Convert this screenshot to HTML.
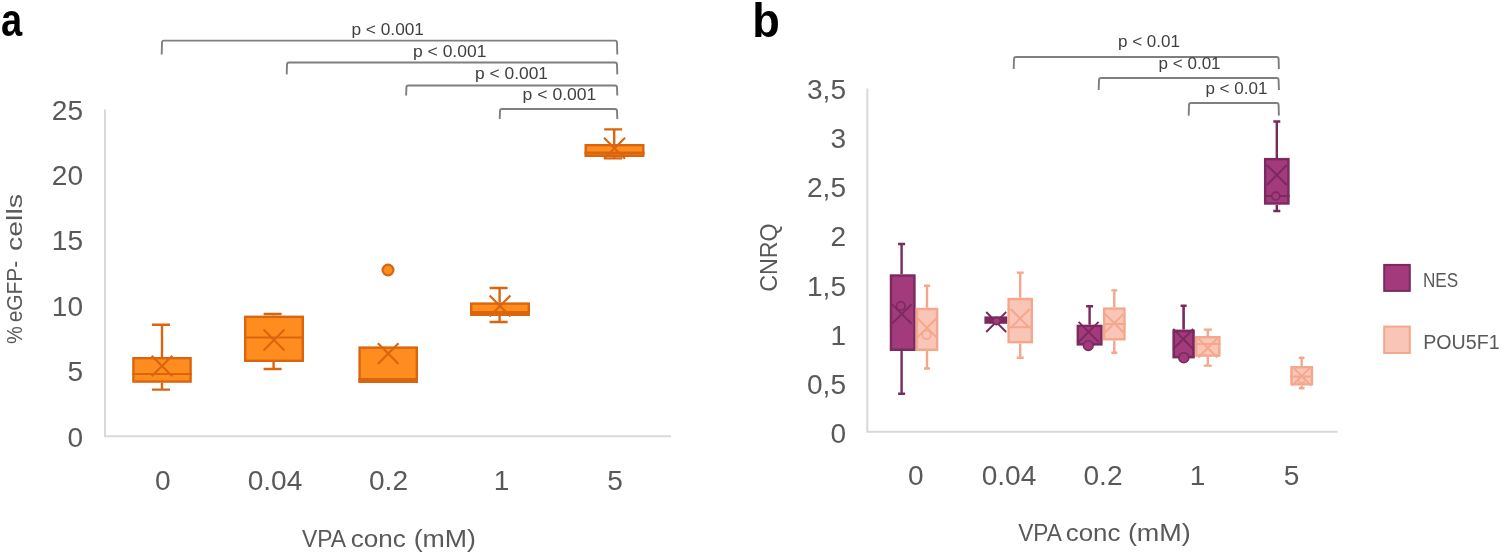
<!DOCTYPE html>
<html lang="en"><head><meta charset="utf-8"><title>Figure</title>
<style>html,body{margin:0;padding:0;background:#fff}svg{display:block}</style></head>
<body>
<svg width="1502" height="555" viewBox="0 0 1502 555" font-family='"Liberation Sans", sans-serif'>
<rect width="1502" height="555" fill="#ffffff"/>
<text x="0" y="0" font-size="47" fill="#000" text-anchor="start" font-weight="bold" transform="translate(1,36.3) scale(0.81,1)">a</text>
<text x="0" y="0" font-size="48" fill="#000" text-anchor="start" font-weight="bold" transform="translate(752.3,36.5) scale(0.94,1)">b</text>
<path d="M105,109.5 V436.3 H671" fill="none" stroke="#d9d9d9" stroke-width="2"/>
<text x="0" y="0" font-size="27" fill="#595959" text-anchor="end" transform="translate(83,119.7) scale(1.04,1)">25</text>
<text x="0" y="0" font-size="27" fill="#595959" text-anchor="end" transform="translate(83,185.0) scale(1.04,1)">20</text>
<text x="0" y="0" font-size="27" fill="#595959" text-anchor="end" transform="translate(83,250.39999999999998) scale(1.04,1)">15</text>
<text x="0" y="0" font-size="27" fill="#595959" text-anchor="end" transform="translate(83,315.7) scale(1.04,1)">10</text>
<text x="0" y="0" font-size="27" fill="#595959" text-anchor="end" transform="translate(83,381.09999999999997) scale(1.04,1)">5</text>
<text x="0" y="0" font-size="27" fill="#595959" text-anchor="end" transform="translate(83,447.4) scale(1.04,1)">0</text>
<text x="0" y="0" font-size="27" fill="#595959" text-anchor="middle" transform="translate(162.8,490) scale(1.04,1)">0</text>
<text x="0" y="0" font-size="27" fill="#595959" text-anchor="middle" transform="translate(275,490) scale(1.04,1)">0.04</text>
<text x="0" y="0" font-size="27" fill="#595959" text-anchor="middle" transform="translate(388.5,490) scale(1.04,1)">0.2</text>
<text x="0" y="0" font-size="27" fill="#595959" text-anchor="middle" transform="translate(501.5,490) scale(1.04,1)">1</text>
<text x="0" y="0" font-size="27" fill="#595959" text-anchor="middle" transform="translate(615,490) scale(1.04,1)">5</text>
<text y="547.4" font-size="23" fill="#595959"><tspan x="301.9" textLength="42.85" lengthAdjust="spacingAndGlyphs">VPA</tspan> <tspan x="350.8" textLength="55.05" lengthAdjust="spacingAndGlyphs">conc</tspan> <tspan x="413.7" textLength="62.32" lengthAdjust="spacingAndGlyphs">(mM)</tspan></text>
<g transform="translate(22,344) rotate(-90)">
<text y="0" font-size="22.5" fill="#595959"><tspan x="0.0" textLength="17.81" lengthAdjust="spacingAndGlyphs">%</tspan> <tspan x="21.7" textLength="61.51" lengthAdjust="spacingAndGlyphs">eGFP-</tspan> <tspan x="93.0" textLength="57.01" lengthAdjust="spacingAndGlyphs">cells</tspan></text>
</g>
<path d="M161.7,54.4 L162,42.6 Q162,40.6 164,40.6 L615,40.6 Q617,40.6 617,42.6 L617.3,54.4" fill="none" stroke="#7f7f7f" stroke-width="1.9"/>
<path d="M286.7,74.4 L287,64.5 Q287,62.5 289,62.5 L615,62.5 Q617,62.5 617,64.5 L617.3,74.4" fill="none" stroke="#7f7f7f" stroke-width="1.9"/>
<path d="M406.09999999999997,95.5 L406.4,87.5 Q406.4,85.5 408.4,85.5 L615,85.5 Q617,85.5 617,87.5 L617.3,95.5" fill="none" stroke="#7f7f7f" stroke-width="1.9"/>
<path d="M499.7,119 L500,111 Q500,109 502,109 L615,109 Q617,109 617,111 L617.3,119" fill="none" stroke="#7f7f7f" stroke-width="1.9"/>
<text x="351.4" y="35" font-size="16.5" fill="#404040" text-anchor="start" textLength="72.6" lengthAdjust="spacingAndGlyphs">p &lt; 0.001</text>
<text x="413" y="56.5" font-size="16.5" fill="#404040" text-anchor="start" textLength="73.4" lengthAdjust="spacingAndGlyphs">p &lt; 0.001</text>
<text x="475" y="78.6" font-size="16.5" fill="#404040" text-anchor="start" textLength="73" lengthAdjust="spacingAndGlyphs">p &lt; 0.001</text>
<text x="522.6" y="100" font-size="16.5" fill="#404040" text-anchor="start" textLength="73.8" lengthAdjust="spacingAndGlyphs">p &lt; 0.001</text>
<path d="M162,357 V324.8 M152.0,324.8 H170.0" stroke="#d9660f" stroke-width="2.4" fill="none"/>
<path d="M162,382.8 V389.6 M152.0,389.6 H170.0" stroke="#d9660f" stroke-width="2.4" fill="none"/>
<rect x="133.4" y="358.2" width="57.2" height="23.4" fill="#ff8c1e" stroke="#d9660f" stroke-width="2.4"/>
<path d="M132.2,374 H191.8" stroke="#d9660f" stroke-width="2"/>
<path d="M151.7,355.7 L172.3,376.3 M172.3,355.7 L151.7,376.3" stroke="#d9660f" stroke-width="2.1" fill="none"/>
<path d="M273.6,315.6 V314 M263.6,314 H281.6" stroke="#d9660f" stroke-width="2.4" fill="none"/>
<path d="M273.6,362 V369 M263.6,369 H281.6" stroke="#d9660f" stroke-width="2.4" fill="none"/>
<rect x="245.2" y="316.8" width="57.6" height="44.0" fill="#ff8c1e" stroke="#d9660f" stroke-width="2.4"/>
<path d="M244.0,337.4 H304.0" stroke="#d9660f" stroke-width="2"/>
<path d="M263.5,329.5 L284.5,350.5 M284.5,329.5 L263.5,350.5" stroke="#d9660f" stroke-width="2.1" fill="none"/>
<rect x="359.6" y="347.6" width="57.2" height="34.2" fill="#ff8c1e" stroke="#d9660f" stroke-width="2.4"/>
<path d="M358.4,380 H418.0" stroke="#d9660f" stroke-width="4"/>
<path d="M377.9,343.3 L398.5,363.9 M398.5,343.3 L377.9,363.9" stroke="#d9660f" stroke-width="2.1" fill="none"/>
<circle cx="388" cy="270" r="5.4" fill="#ff8c1e" stroke="#d9660f" stroke-width="2.2"/>
<path d="M499.6,302.4 V288 M489.6,288 H507.6" stroke="#d9660f" stroke-width="2.4" fill="none"/>
<path d="M499.6,316 V322 M489.6,322 H507.6" stroke="#d9660f" stroke-width="2.4" fill="none"/>
<rect x="471.2" y="303.6" width="57.6" height="11.2" fill="#ff8c1e" stroke="#d9660f" stroke-width="2.4"/>
<path d="M470.0,312.8 H530.0" stroke="#d9660f" stroke-width="3.5"/>
<path d="M489.6,295.6 L510.4,316.4 M510.4,295.6 L489.6,316.4" stroke="#d9660f" stroke-width="2.1" fill="none"/>
<path d="M614.2,144 V129.4 M604.2,129.4 H622.2" stroke="#d9660f" stroke-width="2.4" fill="none"/>
<path d="M614.2,157 V158.4 M604.2,158.4 H622.2" stroke="#d9660f" stroke-width="2.4" fill="none"/>
<rect x="585.7" y="145.2" width="57.6" height="10.6" fill="#ff8c1e" stroke="#d9660f" stroke-width="2.4"/>
<path d="M584.5,153 H644.5" stroke="#d9660f" stroke-width="3.2"/>
<path d="M604.0,137.7 L625.0,158.7 M625.0,137.7 L604.0,158.7" stroke="#d9660f" stroke-width="2.1" fill="none"/>
<path d="M867.3,88.6 V431.8 H1337.6" fill="none" stroke="#d9d9d9" stroke-width="2"/>
<text x="0" y="0" font-size="27" fill="#595959" text-anchor="end" transform="translate(846,98.7) scale(1.04,1)">3,5</text>
<text x="0" y="0" font-size="27" fill="#595959" text-anchor="end" transform="translate(846,147.89999999999998) scale(1.04,1)">3</text>
<text x="0" y="0" font-size="27" fill="#595959" text-anchor="end" transform="translate(846,197.1) scale(1.04,1)">2,5</text>
<text x="0" y="0" font-size="27" fill="#595959" text-anchor="end" transform="translate(846,246.29999999999998) scale(1.04,1)">2</text>
<text x="0" y="0" font-size="27" fill="#595959" text-anchor="end" transform="translate(846,295.5) scale(1.04,1)">1,5</text>
<text x="0" y="0" font-size="27" fill="#595959" text-anchor="end" transform="translate(846,344.7) scale(1.04,1)">1</text>
<text x="0" y="0" font-size="27" fill="#595959" text-anchor="end" transform="translate(846,393.9) scale(1.04,1)">0,5</text>
<text x="0" y="0" font-size="27" fill="#595959" text-anchor="end" transform="translate(846,443.09999999999997) scale(1.04,1)">0</text>
<text x="0" y="0" font-size="27" fill="#595959" text-anchor="middle" transform="translate(915.7,484.8) scale(1.04,1)">0</text>
<text x="0" y="0" font-size="27" fill="#595959" text-anchor="middle" transform="translate(1009,484.8) scale(1.04,1)">0.04</text>
<text x="0" y="0" font-size="27" fill="#595959" text-anchor="middle" transform="translate(1103,484.8) scale(1.04,1)">0.2</text>
<text x="0" y="0" font-size="27" fill="#595959" text-anchor="middle" transform="translate(1197.5,484.8) scale(1.04,1)">1</text>
<text x="0" y="0" font-size="27" fill="#595959" text-anchor="middle" transform="translate(1291.6,484.8) scale(1.04,1)">5</text>
<text y="541" font-size="23" fill="#595959"><tspan x="1018.2" textLength="42.45" lengthAdjust="spacingAndGlyphs">VPA</tspan> <tspan x="1065.8" textLength="54.65" lengthAdjust="spacingAndGlyphs">conc</tspan> <tspan x="1127.9" textLength="62.92" lengthAdjust="spacingAndGlyphs">(mM)</tspan></text>
<g transform="translate(776.8,257.6) rotate(-90)">
<text x="0" y="0" font-size="23.5" fill="#595959" text-anchor="middle" textLength="68.5" lengthAdjust="spacingAndGlyphs">CNRQ</text>
</g>
<path d="M1013.7,69 L1014,59 Q1014,57 1016,57 L1276.6,57 Q1278.6,57 1278.6,59 L1278.8999999999999,69" fill="none" stroke="#7f7f7f" stroke-width="1.9"/>
<path d="M1098.7,90 L1099,80 Q1099,78 1101,78 L1276.6,78 Q1278.6,78 1278.6,80 L1278.8999999999999,90" fill="none" stroke="#7f7f7f" stroke-width="1.9"/>
<path d="M1188.7,115.6 L1189,105 Q1189,103 1191,103 L1276.6,103 Q1278.6,103 1278.6,105 L1278.8999999999999,115.6" fill="none" stroke="#7f7f7f" stroke-width="1.9"/>
<text x="1118" y="47.4" font-size="16.5" fill="#404040" text-anchor="start" textLength="62" lengthAdjust="spacingAndGlyphs">p &lt; 0.01</text>
<text x="1158.6" y="69" font-size="16.5" fill="#404040" text-anchor="start" textLength="62.0" lengthAdjust="spacingAndGlyphs">p &lt; 0.01</text>
<text x="1205.4" y="94" font-size="16.5" fill="#404040" text-anchor="start" textLength="62.0" lengthAdjust="spacingAndGlyphs">p &lt; 0.01</text>
<path d="M901.6,274.3 V244 M898.1,244 H905.1" stroke="#7a2a5e" stroke-width="2.4" fill="none"/>
<path d="M901.6,351 V393.8 M898.1,393.8 H905.1" stroke="#7a2a5e" stroke-width="2.4" fill="none"/>
<rect x="890.95" y="275.5" width="23.5" height="74.3" fill="#a23a7c" stroke="#7a2a5e" stroke-width="2.4"/>
<path d="M892.1,304.3 L911.5,323.7 M911.5,304.3 L892.1,323.7" stroke="#7a2a5e" stroke-width="1.9" fill="none"/>
<circle cx="900.8" cy="306" r="4.3" fill="none" stroke="#7a2a5e" stroke-width="1.6"/>
<path d="M927,307.8 V285.7 M924.0,285.7 H930.0" stroke="#f4a78d" stroke-width="2.4" fill="none"/>
<path d="M927,351 V368.5 M924.0,368.5 H930.0" stroke="#f4a78d" stroke-width="2.4" fill="none"/>
<rect x="916.85" y="309.0" width="20.3" height="40.8" fill="#f9c5b6" stroke="#f4a78d" stroke-width="2.4"/>
<path d="M917.7,318.5 L936.3,337.1 M936.3,318.5 L917.7,337.1" stroke="#f4a78d" stroke-width="1.9" fill="none"/>
<circle cx="926.5" cy="334.8" r="4.3" fill="none" stroke="#f4a78d" stroke-width="1.6"/>
<rect x="985.4" y="317.4" width="21" height="5.4" fill="#7a2a5e" stroke="#7a2a5e" stroke-width="2"/>
<path d="M986.2,312 L1006.2,332 M1006.2,312 L986.2,332" stroke="#7a2a5e" stroke-width="1.9" fill="none"/>
<circle cx="996.6" cy="321" r="3.6" fill="#a23a7c" stroke="#7a2a5e" stroke-width="1.6"/>
<path d="M1020.2,297.8 V272.6 M1016.7,272.6 H1023.7" stroke="#f4a78d" stroke-width="2.4" fill="none"/>
<path d="M1020.2,343.4 V357.8 M1016.7,357.8 H1023.7" stroke="#f4a78d" stroke-width="2.4" fill="none"/>
<rect x="1008.6" y="299.0" width="23.2" height="43.2" fill="#f9c5b6" stroke="#f4a78d" stroke-width="2.4"/>
<path d="M1007.4,327.2 H1033.0" stroke="#f4a78d" stroke-width="2"/>
<path d="M1010.7,309.0 L1029.7,328.0 M1029.7,309.0 L1010.7,328.0" stroke="#f4a78d" stroke-width="1.9" fill="none"/>
<path d="M1089.6,324.7 V306.2 M1086.1,306.2 H1093.1" stroke="#7a2a5e" stroke-width="2.4" fill="none"/>
<rect x="1077.8" y="325.9" width="23.6" height="18.5" fill="#a23a7c" stroke="#7a2a5e" stroke-width="2.4"/>
<path d="M1078.6,321.8 L1098.6,341.8 M1098.6,321.8 L1078.6,341.8" stroke="#7a2a5e" stroke-width="1.9" fill="none"/>
<circle cx="1088.3" cy="345.6" r="4.8" fill="#a23a7c" stroke="#7a2a5e" stroke-width="1.6"/>
<path d="M1114.3,307.4 V290.4 M1111.3,290.4 H1117.3" stroke="#f4a78d" stroke-width="2.4" fill="none"/>
<path d="M1114.3,340.5 V352.8 M1111.3,352.8 H1117.3" stroke="#f4a78d" stroke-width="2.4" fill="none"/>
<rect x="1104.15" y="308.6" width="20.3" height="30.7" fill="#f9c5b6" stroke="#f4a78d" stroke-width="2.4"/>
<path d="M1102.95,324 H1125.65" stroke="#f4a78d" stroke-width="2"/>
<path d="M1105.0,313.9 L1123.6,332.5 M1123.6,313.9 L1105.0,332.5" stroke="#f4a78d" stroke-width="1.9" fill="none"/>
<path d="M1183.6,329.6 V305.8 M1180.6,305.8 H1186.6" stroke="#7a2a5e" stroke-width="2.6" fill="none"/>
<rect x="1173.7" y="330.9" width="19.8" height="26.2" fill="#a23a7c" stroke="#7a2a5e" stroke-width="2.6"/>
<path d="M1173.2,329 L1193.2,349 M1193.2,329 L1173.2,349" stroke="#7a2a5e" stroke-width="1.9" fill="none"/>
<circle cx="1183.8" cy="357.7" r="5" fill="#a23a7c" stroke="#7a2a5e" stroke-width="1.6"/>
<path d="M1207.8,336 V329.6 M1203.8,329.6 H1211.8" stroke="#f4a78d" stroke-width="2.4" fill="none"/>
<path d="M1207.8,356.8 V365.6 M1203.8,365.6 H1211.8" stroke="#f4a78d" stroke-width="2.4" fill="none"/>
<rect x="1196.25" y="337.2" width="23.1" height="18.4" fill="#f9c5b6" stroke="#f4a78d" stroke-width="2.4"/>
<path d="M1195.05,344 H1220.55" stroke="#f4a78d" stroke-width="2"/>
<path d="M1198.3,338.5 L1217.3,357.5 M1217.3,338.5 L1198.3,357.5" stroke="#f4a78d" stroke-width="1.9" fill="none"/>
<path d="M1276.8,157.9 V121.5 M1273.3,121.5 H1280.3" stroke="#7a2a5e" stroke-width="2.4" fill="none"/>
<path d="M1276.8,204.7 V211 M1273.3,211 H1280.3" stroke="#7a2a5e" stroke-width="2.4" fill="none"/>
<rect x="1265.15" y="159.1" width="23.3" height="44.4" fill="#a23a7c" stroke="#7a2a5e" stroke-width="2.4"/>
<path d="M1263.95,196 H1289.65" stroke="#7a2a5e" stroke-width="2"/>
<path d="M1266.8,165 L1286.8,185 M1286.8,165 L1266.8,185" stroke="#7a2a5e" stroke-width="1.9" fill="none"/>
<circle cx="1275.8" cy="196.1" r="4" fill="#a23a7c" stroke="#7a2a5e" stroke-width="1.6"/>
<path d="M1301.7,366 V357.8 M1298.9,357.8 H1304.5" stroke="#f4a78d" stroke-width="2.4" fill="none"/>
<path d="M1301.7,385.5 V388.2 M1298.9,388.2 H1304.5" stroke="#f4a78d" stroke-width="2.4" fill="none"/>
<rect x="1291.45" y="367.2" width="20.5" height="17.1" fill="#f9c5b6" stroke="#f4a78d" stroke-width="2.4"/>
<path d="M1290.25,376.5 H1313.15" stroke="#f4a78d" stroke-width="2"/>
<path d="M1292.1,366.4 L1311.3,385.6 M1311.3,366.4 L1292.1,385.6" stroke="#f4a78d" stroke-width="1.9" fill="none"/>
<circle cx="1301.7" cy="379.5" r="3.5" fill="none" stroke="#f4a78d" stroke-width="1.6"/>
<rect x="1384.2" y="264.9" width="25.6" height="26" fill="#a23a7c" stroke="#7a2a5e" stroke-width="2"/>
<rect x="1384.2" y="326.6" width="25.6" height="26.4" fill="#f9c5b6" stroke="#f4a78d" stroke-width="2"/>
<text x="1423" y="286.7" font-size="19.5" fill="#595959" text-anchor="start" textLength="35.2" lengthAdjust="spacingAndGlyphs">NES</text>
<text x="1423.2" y="349" font-size="19.5" fill="#595959" text-anchor="start" textLength="76.4" lengthAdjust="spacingAndGlyphs">POU5F1</text>
</svg>
</body></html>
